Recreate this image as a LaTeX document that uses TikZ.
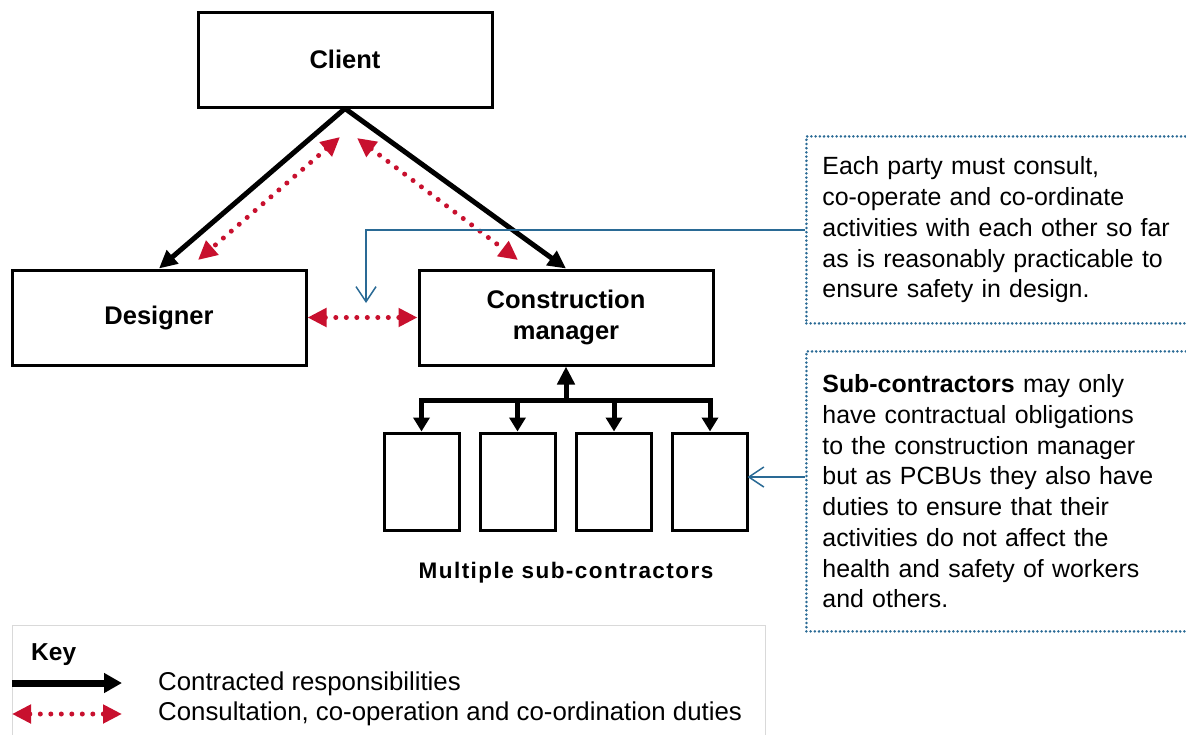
\documentclass[tikz,border=0pt]{standalone}
\usepackage{fontspec}
\setmainfont{Liberation Sans}
\usetikzlibrary{arrows.meta,calc}
\definecolor{cred}{HTML}{C8102E}
\definecolor{cblue}{HTML}{2A6A95}
\definecolor{kgray}{HTML}{D9D9D9}
\begin{document}
\begin{tikzpicture}[x=1pt,y=-1pt,
  box/.style={draw,line width=3pt,inner sep=0pt,font=\fontsize{25.5}{31}\selectfont\bfseries,align=center},
  bigbox/.style={box,minimum width=294pt,minimum height=95pt},
  subbox/.style={box,minimum width=75pt,minimum height=97pt},
  carrow/.style={line width=5pt,-{Triangle[length=18pt,width=17pt]}},
  subarrow/.style={line width=5pt,-{Triangle[length=14pt,width=16pt]}},
  keyarrow/.style={line width=7pt,-{Triangle[length=18pt,width=19pt]}},
  rarrow/.style={cred,line width=5pt,line cap=round,dash pattern=on 0pt off 10.5pt,{Triangle[length=19pt,width=18pt]}-{Triangle[length=19pt,width=18pt]}},
  bluearrow/.style={cblue,line width=1.5pt,-{Straight Barb[length=15pt,width=20pt]}},
  callout/.style={draw=cblue,line width=2.8pt,line cap=round,dash pattern=on 0pt off 4.2pt,anchor=north west,inner xsep=16pt,inner ysep=0pt,text width=360pt,align=left,font=\fontsize{24.9}{30.7}\selectfont},
  ]
\useasboundingbox (0,0) rectangle (1186,734);
\clip (0,0) rectangle (1186,734);
\fill[white] (0,0) rectangle (1186,734);

% main boxes
\node[bigbox] (client) at (345,59.5) {Client};
\node[bigbox] (designer) at (159,317.5) {Designer};
\node[bigbox] (cm) at (566,317.5) {Construction\\manager};

% sub-contractor boxes
\node[subbox] (s1) at (421.5,481.5) {};
\node[subbox] (s2) at (517.5,481.5) {};
\node[subbox] (s3) at (614,481.5) {};
\node[subbox] (s4) at (710,481.5) {};
\node[font=\fontsize{22.5}{26}\selectfont\bfseries,anchor=base,inner sep=0pt] (multi) at (566,578) {\addfontfeatures{LetterSpace=6.5}Multiple sub-contractors};

% contracted responsibilities
\draw[carrow] (client.south) -- (designer.north);
\draw[carrow] (client.south) -- (cm.north);
\coordinate (bus) at (566,400);
\draw[line width=5pt,line cap=rect] (s1.north|-bus) -- (s4.north|-bus);
\draw[carrow] (bus) -- (cm.south);
\foreach \s in {s1,s2,s3,s4} \draw[subarrow] (\s.north|-bus) -- (\s.north);

% consultation duties
\coordinate (r1a) at (340,137);
\coordinate (r1b) at (198,260);
\coordinate (r2a) at (357,138);
\coordinate (r2b) at (518,260);
\draw[rarrow] (r1a) -- (r1b);
\draw[rarrow] (r2a) -- (r2b);
\draw[rarrow] (designer.east) -- (cm.west);

% callouts
\node[callout,minimum height=187pt] (call1) at (805,135) {Each party must consult,\\co-operate and co-ordinate\\activities with each other so far\\as is reasonably practicable to\\ensure safety in design.};
\node[callout,minimum height=280pt] (call2) at (805,350) {\textbf{Sub-contractors} may only\\have contractual obligations\\to the construction manager\\but as PCBUs they also have\\duties to ensure that their\\activities do not affect the\\health and safety of workers\\and others.};
\coordinate (b1) at (366,303);
\draw[bluearrow] (call1.west) -| (b1);
\coordinate (b2) at (747.5,477);
\draw[bluearrow] (call2.west|-b2) -- (b2);

% key
\node[draw=kgray,line width=1pt,anchor=north west,minimum width=753pt,minimum height=125pt,inner sep=0pt] (keybox) at (12,625) {};
\node[anchor=base west,font=\fontsize{24.5}{28}\selectfont\bfseries,inner sep=0pt] (keylabel) at (31,660) {Key};
\coordinate (ka) at (12,683);
\coordinate (kb) at (122,683);
\draw[keyarrow] (ka) -- (kb);
\coordinate (kc) at (12,714);
\coordinate (kd) at (122,714);
\draw[rarrow] (kc) -- (kd);
\node[anchor=base west,font=\fontsize{25.8}{30}\selectfont,inner sep=0pt] (k1) at (158,690) {Contracted responsibilities};
\node[anchor=base west,font=\fontsize{25.8}{30}\selectfont,inner sep=0pt] (k2) at (158,720) {Consultation, co-operation and co-ordination duties};
\end{tikzpicture}
\end{document}
